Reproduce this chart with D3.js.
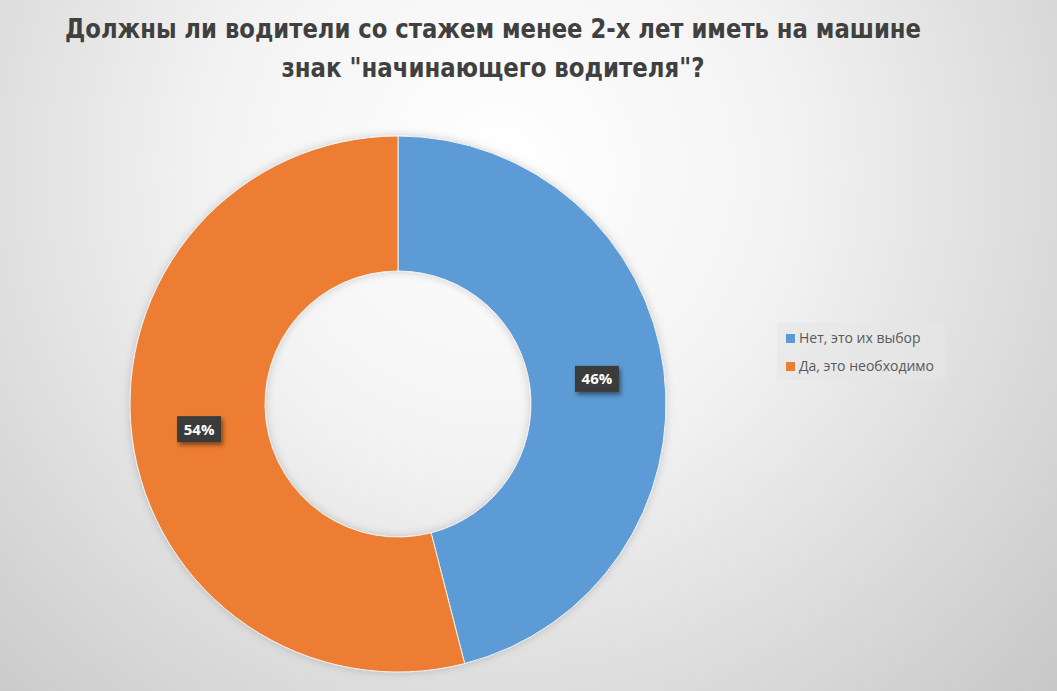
<!DOCTYPE html>
<html>
<head>
<meta charset="utf-8">
<script src="https://cdn.jsdelivr.net/npm/d3@7"></script>
<style>
  html, body { margin: 0; padding: 0; overflow: hidden; }
</style>
</head>
<body>
<svg id="chart" width="1057" height="691"></svg>
<script>
const titleLines = ["Должны ли водители со стажем менее 2-х лет иметь на машине", "знак \"начинающего водителя\"?"];
const categories = ["Нет, это их выбор", "Да, это необходимо"];
const values = [46, 54];
const colors = ["#5B9BD5", "#ED7D31"];

const width = 1057, height = 691;
const cx = 398, cy = 404;
const outerR = 268, innerR = 133;

const svg = d3.select("#chart");
const defs = svg.append("defs");

// Background gradient (light in top centre, grey towards corners)
const bg = defs.append("radialGradient")
  .attr("id", "bg")
  .attr("gradientUnits", "userSpaceOnUse")
  .attr("cx", 500).attr("cy", 170).attr("r", 820);
bg.append("stop").attr("offset", "0%").attr("stop-color", "#ffffff");
bg.append("stop").attr("offset", "35%").attr("stop-color", "#f3f3f3");
bg.append("stop").attr("offset", "100%").attr("stop-color", "#c2c2c2");

const shadow = defs.append("filter").attr("id", "shadow")
  .attr("x", "-30%").attr("y", "-30%").attr("width", "160%").attr("height", "180%");
shadow.append("feDropShadow")
  .attr("dx", 2).attr("dy", 3).attr("stdDeviation", 2)
  .attr("flood-color", "#000").attr("flood-opacity", 0.45);

const donutShadow = defs.append("filter").attr("id", "dshadow")
  .attr("x", "-20%").attr("y", "-20%").attr("width", "140%").attr("height", "140%");
donutShadow.append("feDropShadow")
  .attr("dx", 0).attr("dy", 0).attr("stdDeviation", 4)
  .attr("flood-color", "#000").attr("flood-opacity", 0.18);

svg.append("rect")
  .attr("width", width).attr("height", height)
  .attr("fill", "url(#bg)");

// Title
svg.append("g")
  .selectAll("text")
  .data(titleLines)
  .join("text")
  .attr("x", 493)
  .attr("y", (d, i) => 38 + i * 39)
  .attr("text-anchor", "middle")
  .attr("font-family", "'Liberation Sans Narrow', 'DejaVu Sans Condensed', 'Liberation Sans', sans-serif")
  .attr("font-weight", "bold")
  .attr("font-size", 27)
  .attr("fill", "#404040")
  .attr("textLength", (d, i) => i === 0 ? 856 : 423)
  .attr("lengthAdjust", "spacingAndGlyphs")
  .text((d) => d);

// Donut
const pie = d3.pie().sort(null).value((d) => d);
const arcs = pie(values);
const arc = d3.arc().innerRadius(innerR).outerRadius(outerR);
const labelArc = d3.arc().innerRadius((innerR + outerR) / 2).outerRadius((innerR + outerR) / 2);

const g = svg.append("g").attr("transform", `translate(${cx},${cy})`);

g.append("g")
  .attr("filter", "url(#dshadow)")
  .selectAll("path")
  .data(arcs)
  .join("path")
  .attr("d", arc)
  .attr("fill", (d, i) => colors[i])
  .attr("stroke", "#f2f2f2")
  .attr("stroke-width", 1);

// Data labels
const lab = g.append("g")
  .selectAll("g")
  .data(arcs)
  .join("g")
  .attr("transform", (d) => {
    const [x, y] = labelArc.centroid(d);
    return `translate(${x},${y})`;
  });

lab.append("rect")
  .attr("x", -22).attr("y", -13)
  .attr("width", 44).attr("height", 26)
  .attr("fill", "#3b3b3b")
  .attr("filter", "url(#shadow)");

lab.append("text")
  .attr("text-anchor", "middle")
  .attr("dy", "0.36em")
  .attr("font-family", "'Open Sans', 'Liberation Sans', sans-serif")
  .attr("font-weight", "bold")
  .attr("font-size", 15)
  .attr("fill", "#ffffff")
  .text((d) => d.data + "%");

// Legend
const legend = svg.append("g").attr("transform", "translate(777,323)");
legend.append("rect")
  .attr("width", 169).attr("height", 57)
  .attr("fill", "#e6e6e6").attr("fill-opacity", 0.6);

const items = legend.selectAll("g.item")
  .data(categories)
  .join("g")
  .attr("class", "item")
  .attr("transform", (d, i) => `translate(9,${10 + i * 28})`);

items.append("rect")
  .attr("width", 9).attr("height", 9)
  .attr("y", 1)
  .attr("fill", (d, i) => colors[i]);

items.append("text")
  .attr("x", 13)
  .attr("y", 10)
  .attr("font-family", "'Open Sans', 'Liberation Sans', sans-serif")
  .attr("font-size", 14)
  .attr("fill", "#595959")
  .text((d) => d);
</script>
</body>
</html>
